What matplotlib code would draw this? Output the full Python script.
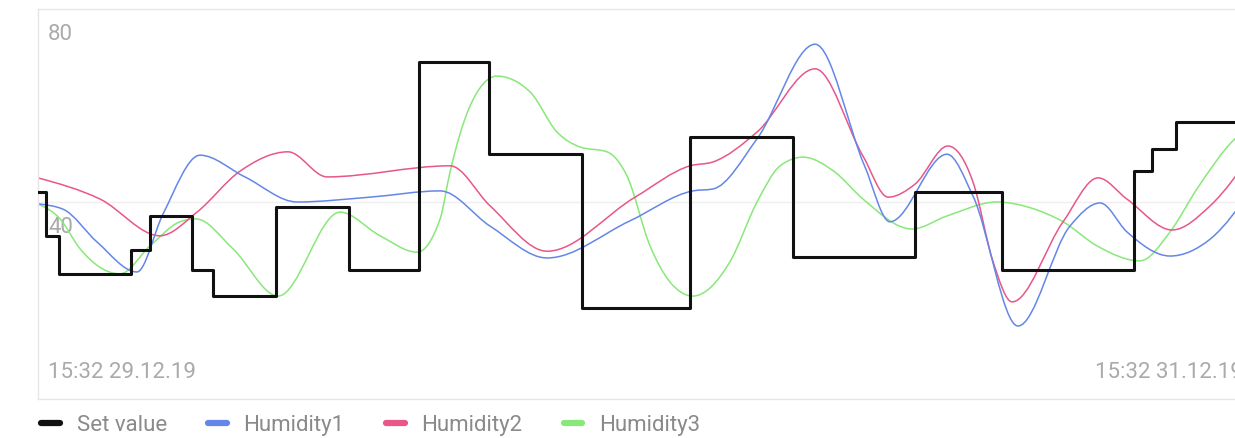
import numpy as np
import matplotlib
matplotlib.use("Agg")
import matplotlib.pyplot as plt
from matplotlib.path import Path
from matplotlib.patches import PathPatch
from matplotlib.lines import Line2D

plt.rcParams['font.family'] = ['Roboto', 'DejaVu Sans']

# time axis in hours since 15:32 29.12.19 (48 h window)
set_t = [0.0, 0.32, 0.83, 3.67, 4.42, 6.07, 6.90, 9.39, 12.27, 15.03, 17.79,
         21.46, 25.72, 29.78, 34.60, 38.03, 43.23, 43.94, 44.89, 48.0]
set_v = [42, 33, 25, 30, 37, 26, 20.5, 39, 26, 69, 50, 18, 53.5, 28.5, 42, 26,
         46.5, 51, 56.5, 56.5]

hum1_t = [0.0, 0.99, 2.33, 3.90, 4.93, 6.39, 8.16, 10.22, 13.09, 15.86, 17.83,
          20.08, 23.35, 25.83, 26.62, 28.36, 30.65, 32.6, 33.60, 35.85, 36.88,
          38.65, 40.70, 41.89, 42.95, 44.65, 46.23, 48.0]
hum1_v = [39.6, 38.5, 31.7, 25.5, 37.5, 49.7, 45.2, 40.0, 41.0, 42.3, 35.0,
          28.4, 36.1, 42.3, 42.7, 53.1, 72.7, 47.5, 35.9, 49.9, 41.2,
          14.3, 35.0, 39.8, 33.8, 28.8, 32.3, 43.7]

hum2_t = [0.0, 2.45, 4.81, 6.27, 7.97, 9.86, 11.40, 16.25, 17.83, 20.08, 23.55,
          25.72, 26.62, 28.36, 30.65, 32.54, 33.53, 34.59, 35.89, 36.88, 37.67,
          38.42, 40.43, 41.81, 42.95, 44.73, 46.23, 48.0]
hum2_v = [45.0, 40.6, 33.0, 37.9, 46.4, 50.4, 45.2, 47.5, 39.2, 29.8, 41.0,
          47.5, 48.3, 54.5, 67.6, 49.5, 41.0, 43.7, 51.6, 44.1, 27.6,
          19.3, 35.9, 45.0, 40.6, 34.2, 39.2, 51.0]

hum3_t = [0.0, 0.87, 1.66, 3.23, 4.42, 5.60, 6.23, 7.69, 9.47, 11.91, 13.49,
          14.95, 15.86, 16.25, 17.04, 18.10, 19.41, 20.47, 21.38, 22.44, 23.23,
          24.14, 24.93, 25.83, 27.29, 28.36, 29.27, 30.17, 31.43, 32.54, 34.47,
          35.85, 37.82, 39.32, 40.43, 41.77, 43.46, 44.65, 45.71, 47.21, 48.0]
hum3_v = [39.6, 36.5, 30.3, 25.1, 30.9, 35.9, 36.5, 30.3, 20.5, 37.9, 33.0,
          29.6, 36.5, 46.2, 59.9, 66.1, 62.8, 54.5, 51.4, 50.4, 45.4,
          30.9, 23.4, 20.5, 27.6, 40.0, 47.5, 49.3, 46.2, 40.6, 34.4,
          37.1, 40.0, 38.5, 35.9, 30.9, 27.8, 33.8, 42.7, 53.1, 56.2]

labels = ["Set value", "Humidity1", "Humidity2", "Humidity3"]
colors = ["#111111", "#6486e8", "#e8568a", "#88e878"]


def monotone_path(xs, ys):
    # bezier path like d3 curveMonotoneX, drawn by matplotlib
    x = np.asarray(xs, float)
    y = np.asarray(ys, float)
    n = len(x)
    h = np.diff(x)
    s = np.diff(y) / h
    t = np.zeros(n)
    for i in range(1, n - 1):
        p = (s[i - 1] * h[i] + s[i] * h[i - 1]) / (h[i - 1] + h[i])
        t[i] = (np.sign(s[i - 1]) + np.sign(s[i])) * min(abs(s[i - 1]), abs(s[i]), 0.5 * abs(p))
    t[0] = (3 * s[0] - t[1]) / 2
    t[-1] = (3 * s[-1] - t[-2]) / 2
    verts = [(x[0], y[0])]
    codes = [Path.MOVETO]
    for i in range(n - 1):
        dx = h[i] / 3
        verts += [(x[i] + dx, y[i] + dx * t[i]),
                  (x[i + 1] - dx, y[i + 1] - dx * t[i + 1]),
                  (x[i + 1], y[i + 1])]
        codes += [Path.CURVE4] * 3
    return Path(verts, codes)


fig = plt.figure(figsize=(12.35, 4.39), dpi=100)
ax = fig.add_axes([38 / 1235, 39 / 439, 1217 / 1235, 390 / 439])
ax.set_xlim(0, 48)
ax.set_ylim(-0.83, 80)

ax.axhline(40, color="#efefef", lw=1, zorder=0)

for tt, vv, c in [(hum3_t, hum3_v, colors[3]), (hum2_t, hum2_v, colors[2]), (hum1_t, hum1_v, colors[1])]:
    ax.add_patch(PathPatch(monotone_path(tt, vv), fill=False, edgecolor=c, lw=1.1, zorder=2))

ax.step(set_t, set_v, where="post", color=colors[0], lw=2.2, zorder=3)

ax.set_xticks([])
ax.set_yticks([])
for sp in ax.spines.values():
    sp.set_color("#e6e6e6")
    sp.set_linewidth(1)

for val in [80, 40]:
    ax.annotate(str(val), xy=(0, val), xycoords=("axes fraction", "data"),
                xytext=(10, -14), textcoords="offset pixels",
                ha="left", va="top", fontsize=16, color="#aaaaaa", zorder=1)

# the right label runs past the picture edge, as in the original
ax.text(10 / 1217, 17 / 390, "15:32 29.12.19", transform=ax.transAxes,
        ha="left", va="bottom", fontsize=16, color="#aaaaaa")
ax.text(1 - 12 / 1217, 17 / 390, "15:32 31.12.19", transform=ax.transAxes,
        ha="right", va="bottom", fontsize=16, color="#aaaaaa")

handles = [Line2D([], [], color=c, lw=4.5, solid_capstyle="round") for c in colors]
fig.legend(handles, labels, loc="center left", bbox_to_anchor=(41 / 1235, 1 - 426 / 439),
           ncol=4, frameon=False, fontsize=16, labelcolor="#8a8a8a",
           handlelength=0.85, handletextpad=0.75, columnspacing=1.85,
           borderpad=0, borderaxespad=0)

fig.savefig("out.png", dpi=100)
